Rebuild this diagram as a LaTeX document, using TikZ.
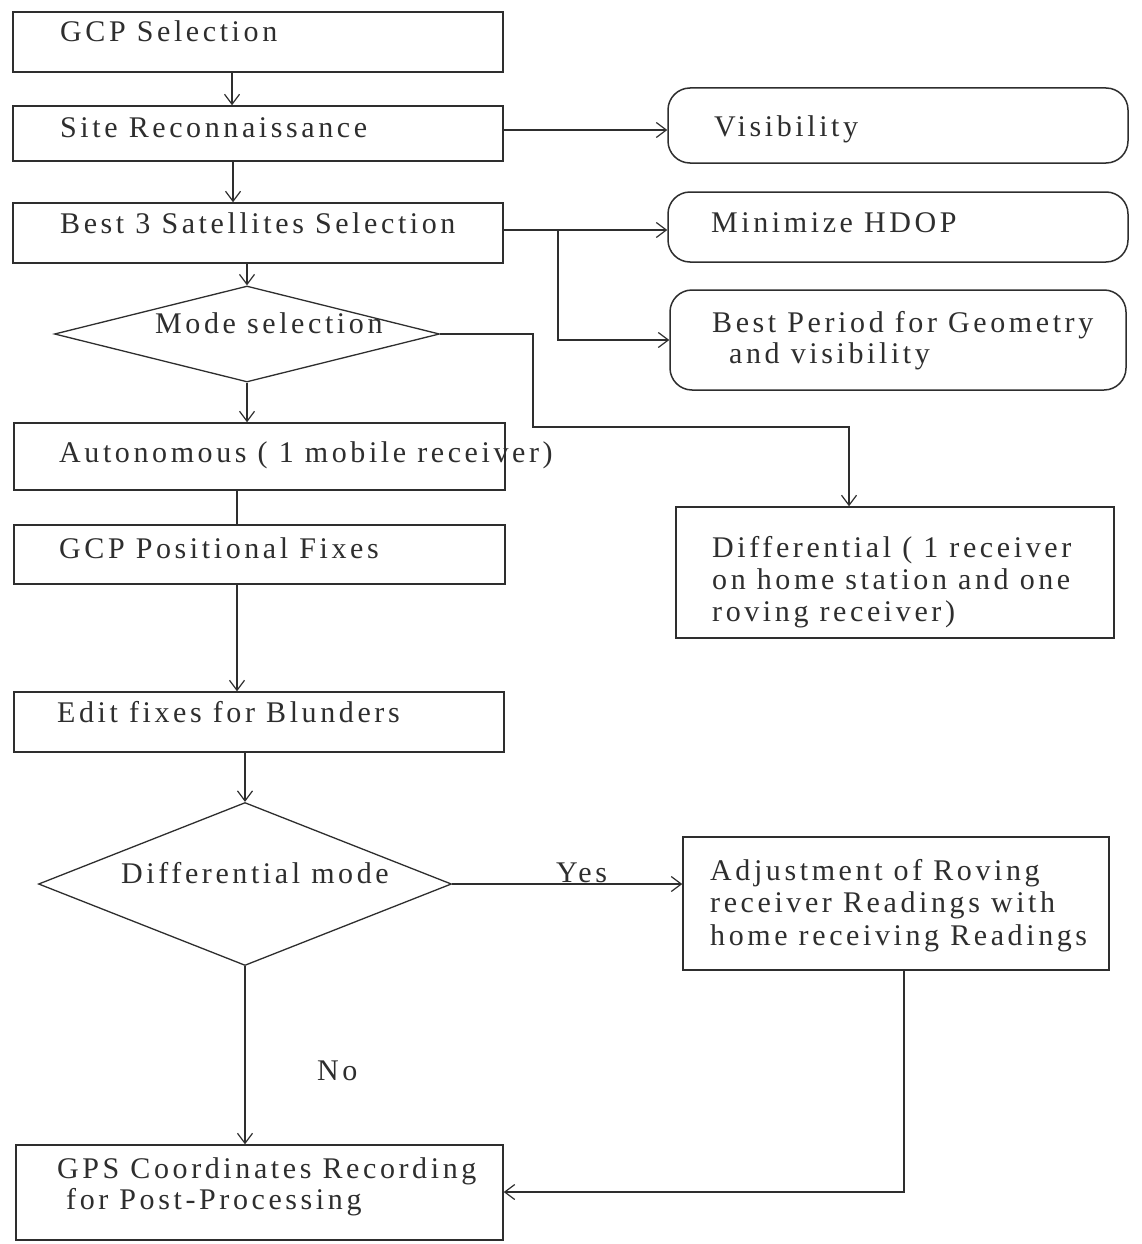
\documentclass[tikz,border=0pt]{standalone}
\usepackage{fontspec}
\setmainfont{Liberation Serif}[LetterSpace=12]
\usetikzlibrary{shapes.geometric,arrows.meta}
\definecolor{ink}{gray}{0.18}
\begin{document}
\begin{tikzpicture}[x=1pt,y=-1pt,
  box/.style={draw=ink, line width=1.5pt, rectangle, inner sep=0pt},
  rbox/.style={draw=ink, line width=1.5pt, rectangle, rounded corners=22pt, inner sep=0pt},
  dia/.style={draw=ink, line width=1.3pt, diamond, inner sep=0pt},
  txt/.style={anchor=base west, inner sep=0pt, text=ink, font=\fontsize{30}{34}\selectfont},
  arr/.style={draw=ink, line width=1.3pt, -{Straight Barb[length=10pt,width=15pt,line width=1.2pt]}},
  con/.style={draw=ink, line width=1.3pt}]
\fill[white] (0,0) rectangle (1142,1244);
\useasboundingbox (0,0) rectangle (1142,1244);

% left column boxes
\node[box, minimum width=490pt, minimum height=60pt] (gcp) at (258,42) {};
\node[box, minimum width=490pt, minimum height=55pt] (site) at (258,133.5) {};
\node[box, minimum width=490pt, minimum height=60pt] (best3) at (258,233) {};
\node[dia, minimum width=385pt, minimum height=96pt] (mode) at (247,334) {};
\node[box, minimum width=491pt, minimum height=67pt] (auton) at (259.5,456.5) {};
\node[box, minimum width=491pt, minimum height=59pt] (gcppos) at (259.5,554.5) {};
\node[box, minimum width=490pt, minimum height=60pt] (edit) at (259,722) {};
\node[dia, minimum width=413pt, minimum height=163pt] (diffm) at (245,884) {};
\node[box, minimum width=487pt, minimum height=95pt] (gps) at (259.5,1192.5) {};

% right column boxes
\node[rbox, minimum width=460pt, minimum height=75pt] (vis) at (898,125.5) {};
\node[rbox, minimum width=460pt, minimum height=70pt] (hdop) at (898,227) {};
\node[rbox, minimum width=456pt, minimum height=100pt] (bestp) at (898,340) {};
\node[box, minimum width=438pt, minimum height=131pt] (diffr) at (895,572.5) {};
\node[box, minimum width=426pt, minimum height=133pt] (adj) at (896,903.5) {};

% texts
\node[txt] (tgcp) at (60,42) {GCP Selection};
\node[txt] (tsite) at (60,137) {Site Reconnaissance};
\node[txt] (tbest3) at (60,233) {Best 3 Satellites Selection};
\node[txt] (tmode) at (155,333) {Mode selection};
\node[txt] (tauton) at (59,462) {Autonomous ( 1 mobile receiver)};
\node[txt] (tgcppos) at (59,558) {GCP Positional Fixes};
\node[txt] (tedit) at (57,722) {Edit fixes for Blunders};
\node[txt] (tdiffm) at (121,883) {Differential mode};
\node[txt] (tgps1) at (57,1178) {GPS Coordinates Recording};
\node[txt] (tgps2) at (66,1209) {for Post-Processing};
\node[txt] (tvis) at (714,136) {Visibility};
\node[txt] (thdop) at (711,232) {Minimize HDOP};
\node[txt] (tbestp1) at (712,332) {Best Period for Geometry};
\node[txt] (tbestp2) at (729,363) {and visibility};
\node[txt] (tdiffr1) at (712,557) {Differential ( 1 receiver};
\node[txt] (tdiffr2) at (712,589) {on home station and one};
\node[txt] (tdiffr3) at (712,621) {roving receiver)};
\node[txt] (tadj1) at (710,880) {Adjustment of Roving};
\node[txt] (tadj2) at (710,912) {receiver Readings with};
\node[txt] (tadj3) at (710,945) {home receiving Readings};
\node[txt] (tyes) at (556,882) {Yes};
\node[txt] (tno) at (317,1080) {No};

% helper coordinates
\coordinate (v1) at (232,0);
\coordinate (v2) at (233,0);
\coordinate (v3) at (237,0);
\coordinate (h1) at (0,130);
\coordinate (h2) at (0,230);
\coordinate (j1) at (558,230);
\coordinate (m1) at (533,427);
\coordinate (m2) at (849,427);
\coordinate (a1) at (904,1192);

% main flow
\draw[arr] (gcp.south -| v1) -- (site.north -| v1);
\draw[arr] (site.south -| v2) -- (best3.north -| v2);
\draw[arr] (best3.south -| mode.north) -- (mode.north);
\draw[arr] (mode.south) -- (auton.north -| mode.south);
\draw[con] (auton.south -| v3) -- (gcppos.north -| v3);
\draw[arr] (gcppos.south -| v3) -- (edit.north -| v3);
\draw[arr] (edit.south -| diffm.north) -- (diffm.north);
\draw[arr] (diffm.south) -- (gps.north -| diffm.south);

% side branches
\draw[arr] (site.east |- h1) -- (vis.west |- h1);
\draw[arr] (best3.east |- h2) -- (hdop.west |- h2);
\draw[arr] (j1) |- (bestp.west);
\draw[arr] (mode.east) -| (m1) -- (m2) -- (m2 |- diffr.north);
\draw[arr] (diffm.east) -- (diffm.east -| adj.west);
\draw[arr] (adj.south -| a1) -- (a1) -- (gps.east |- a1);
\end{tikzpicture}
\end{document}
